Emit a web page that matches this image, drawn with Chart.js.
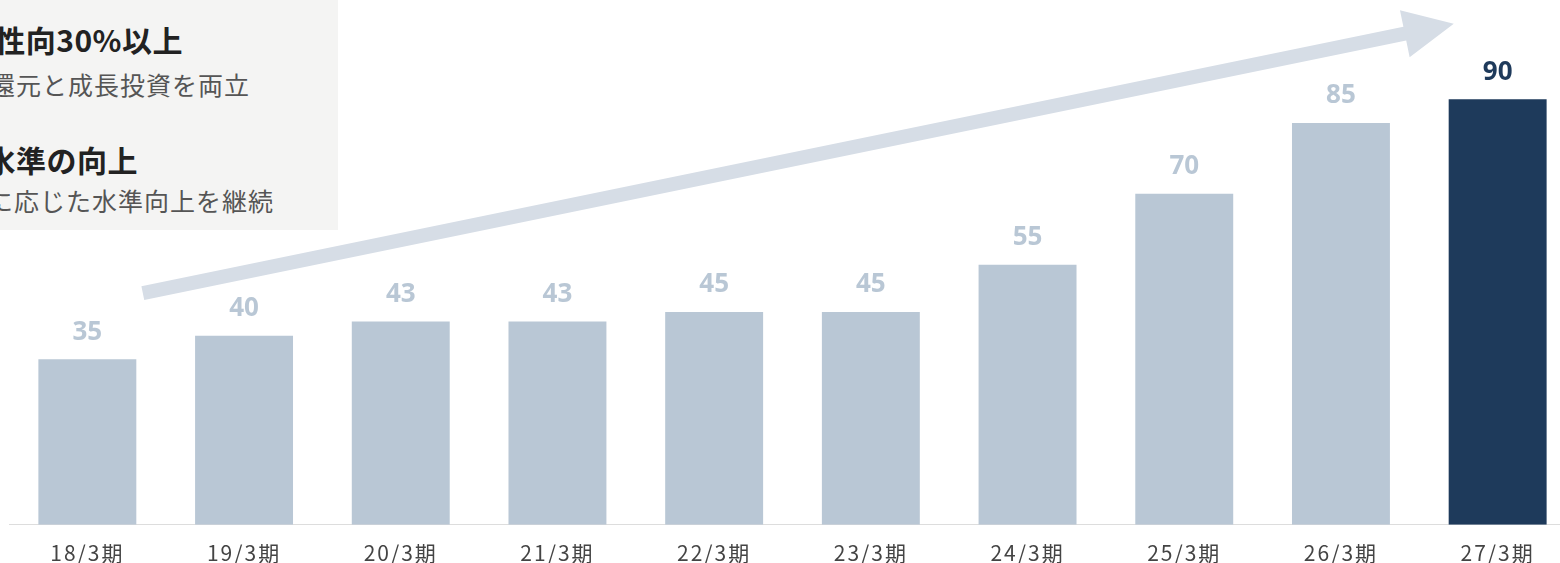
<!DOCTYPE html>
<html lang="ja">
<head>
<meta charset="utf-8">
<script src="https://cdn.jsdelivr.net/npm/chart.js@4.4.1/dist/chart.umd.min.js"></script>
<style>
  html, body { margin: 0; padding: 0; background: #fff; overflow: hidden; }
  #wrap { position: relative; width: 1560px; height: 563px; overflow: hidden; }
  #chartBox { position: absolute; left: 0; top: 0; width: 1576px; height: 582px; }
  #note {
    position: absolute; left: 0; top: 0; width: 338px; height: 230px;
    background: #f4f4f3; overflow: hidden;
    font-family: "Noto Sans CJK JP", "Noto Sans", sans-serif;
  }
  #note div { position: absolute; white-space: nowrap; line-height: 1; }
  .head { font-size: 30px; font-weight: 700; color: #222; letter-spacing: 0.5px; }
  .sub { font-size: 25px; color: #555; letter-spacing: 1px; }
</style>
</head>
<body>
<div id="wrap">
  <div id="chartBox"><canvas id="dividendChart"></canvas></div>
  <div id="note">
    <div class="head" style="top:24px; right:155px;">性向30%以上</div>
    <div class="sub" style="top:72px; right:88px;">還元と成長投資を両立</div>
    <div class="head" style="top:144px; right:200px;">水準の向上</div>
    <div class="sub" style="top:188px; right:64px;">に応じた水準向上を継続</div>
  </div>
</div>
<script>
// ===== DATA =====
const periods = ["18/3期", "19/3期", "20/3期", "21/3期", "22/3期", "23/3期", "24/3期", "25/3期", "26/3期", "27/3期"];
const dividends = [35, 40, 43, 43, 45, 45, 55, 70, 85, 90];

// arrow path in chart units: [category index, value]
const arrowFrom = [0.354, 49];
const arrowTo = [8.72, 106];

// ===== COLORS =====
const lightBar = "#b9c7d5";
const darkBar = "#1e3a5b";
const arrowColor = "#d6dde6";
const barColors = dividends.map((v, i) => i === dividends.length - 1 ? darkBar : lightBar);

// ===== PLUGINS =====
const trendArrow = {
    id: "trendArrow",
    beforeDatasetsDraw(chart) {
        const { ctx, scales: { x, y } } = chart;
        const x0 = x.getPixelForValue(arrowFrom[0]);
        const y0 = y.getPixelForValue(arrowFrom[1]);
        const x1 = x.getPixelForValue(arrowTo[0]);
        const y1 = y.getPixelForValue(arrowTo[1]);
        const ang = Math.atan2(y1 - y0, x1 - x0);
        const headLen = 50, headHalf = 24, shaft = 14;
        const bx = x1 - headLen * Math.cos(ang);
        const by = y1 - headLen * Math.sin(ang);
        const nx = -Math.sin(ang), ny = Math.cos(ang);

        ctx.save();
        ctx.fillStyle = arrowColor;
        ctx.beginPath();
        ctx.moveTo(x0 + nx * shaft / 2, y0 + ny * shaft / 2);
        ctx.lineTo(bx + nx * shaft / 2, by + ny * shaft / 2);
        ctx.lineTo(bx + nx * headHalf, by + ny * headHalf);
        ctx.lineTo(x1, y1);
        ctx.lineTo(bx - nx * headHalf, by - ny * headHalf);
        ctx.lineTo(bx - nx * shaft / 2, by - ny * shaft / 2);
        ctx.lineTo(x0 - nx * shaft / 2, y0 - ny * shaft / 2);
        ctx.closePath();
        ctx.fill();
        ctx.restore();
    }
};

// wider spacing for the period labels under the axis
const tickSpacing = {
    id: "tickSpacing",
    beforeDraw(chart) { chart.ctx.letterSpacing = "2px"; },
    beforeDatasetsDraw(chart) { chart.ctx.letterSpacing = "0px"; }
};

const valueLabels = {
    id: "valueLabels",
    afterDatasetsDraw(chart) {
        const { ctx } = chart;
        const meta = chart.getDatasetMeta(0);
        ctx.save();
        ctx.font = "700 26px 'Noto Sans', sans-serif";
        ctx.textAlign = "center";
        ctx.textBaseline = "middle";
        meta.data.forEach((bar, i) => {
            ctx.fillStyle = barColors[i];
            ctx.fillText(String(dividends[i]), bar.x, bar.y - 27);
        });
        ctx.restore();
    }
};

// ===== CHART =====
const ctx = document.getElementById("dividendChart").getContext("2d");

new Chart(ctx, {
    type: "bar",
    data: {
        labels: periods,
        datasets: [{
            data: dividends,
            backgroundColor: barColors,
            barPercentage: 0.625,
            categoryPercentage: 1
        }]
    },
    options: {
        responsive: true,
        maintainAspectRatio: false,
        animation: false,
        layout: { padding: { left: 9, right: 0, top: 0, bottom: 0 } },
        plugins: {
            legend: { display: false },
            tooltip: { enabled: false }
        },
        scales: {
            x: {
                grid: { display: false, drawTicks: false },
                border: { display: true, color: "#dddddd", width: 1 },
                ticks: {
                    color: "#444444",
                    padding: 16,
                    font: { family: "'Noto Sans CJK JP', sans-serif", size: 21 }
                }
            },
            y: {
                display: false,
                min: 0,
                max: 111
            }
        }
    },
    plugins: [tickSpacing, trendArrow, valueLabels]
});
</script>
</body>
</html>
